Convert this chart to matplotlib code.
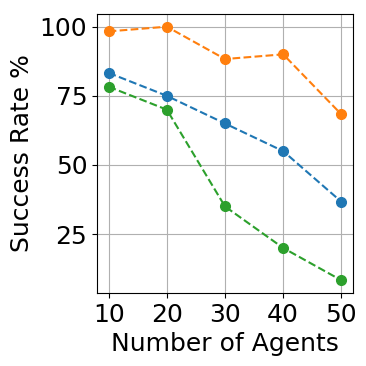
import matplotlib
matplotlib.use('Agg')
import matplotlib.pyplot as plt

agents = [10, 20, 30, 40, 50]
rate_blue = [83.3, 75, 65, 55, 36.7]
rate_orange = [98.3, 100, 88.3, 90, 68.3]
rate_green = [78.3, 70, 35, 20, 8.3]

fig = plt.figure(figsize=(3.66, 3.66), dpi=100)
ax = fig.add_axes([97/366, 1 - 293/366, 256/366, 279/366])

ax.plot(agents, rate_blue, 'o--', color='tab:blue', markersize=7)
ax.plot(agents, rate_orange, 'o--', color='tab:orange', markersize=7)
ax.plot(agents, rate_green, 'o--', color='tab:green', markersize=7)

ax.set_xticks([10, 20, 30, 40, 50])
ax.set_yticks([25, 50, 75, 100])
ax.tick_params(labelsize=18)
ax.set_xlabel('Number of Agents', fontsize=18)
ax.set_ylabel('Success Rate %', fontsize=18)
ax.grid(True)

fig.savefig('out.png', dpi=100)
